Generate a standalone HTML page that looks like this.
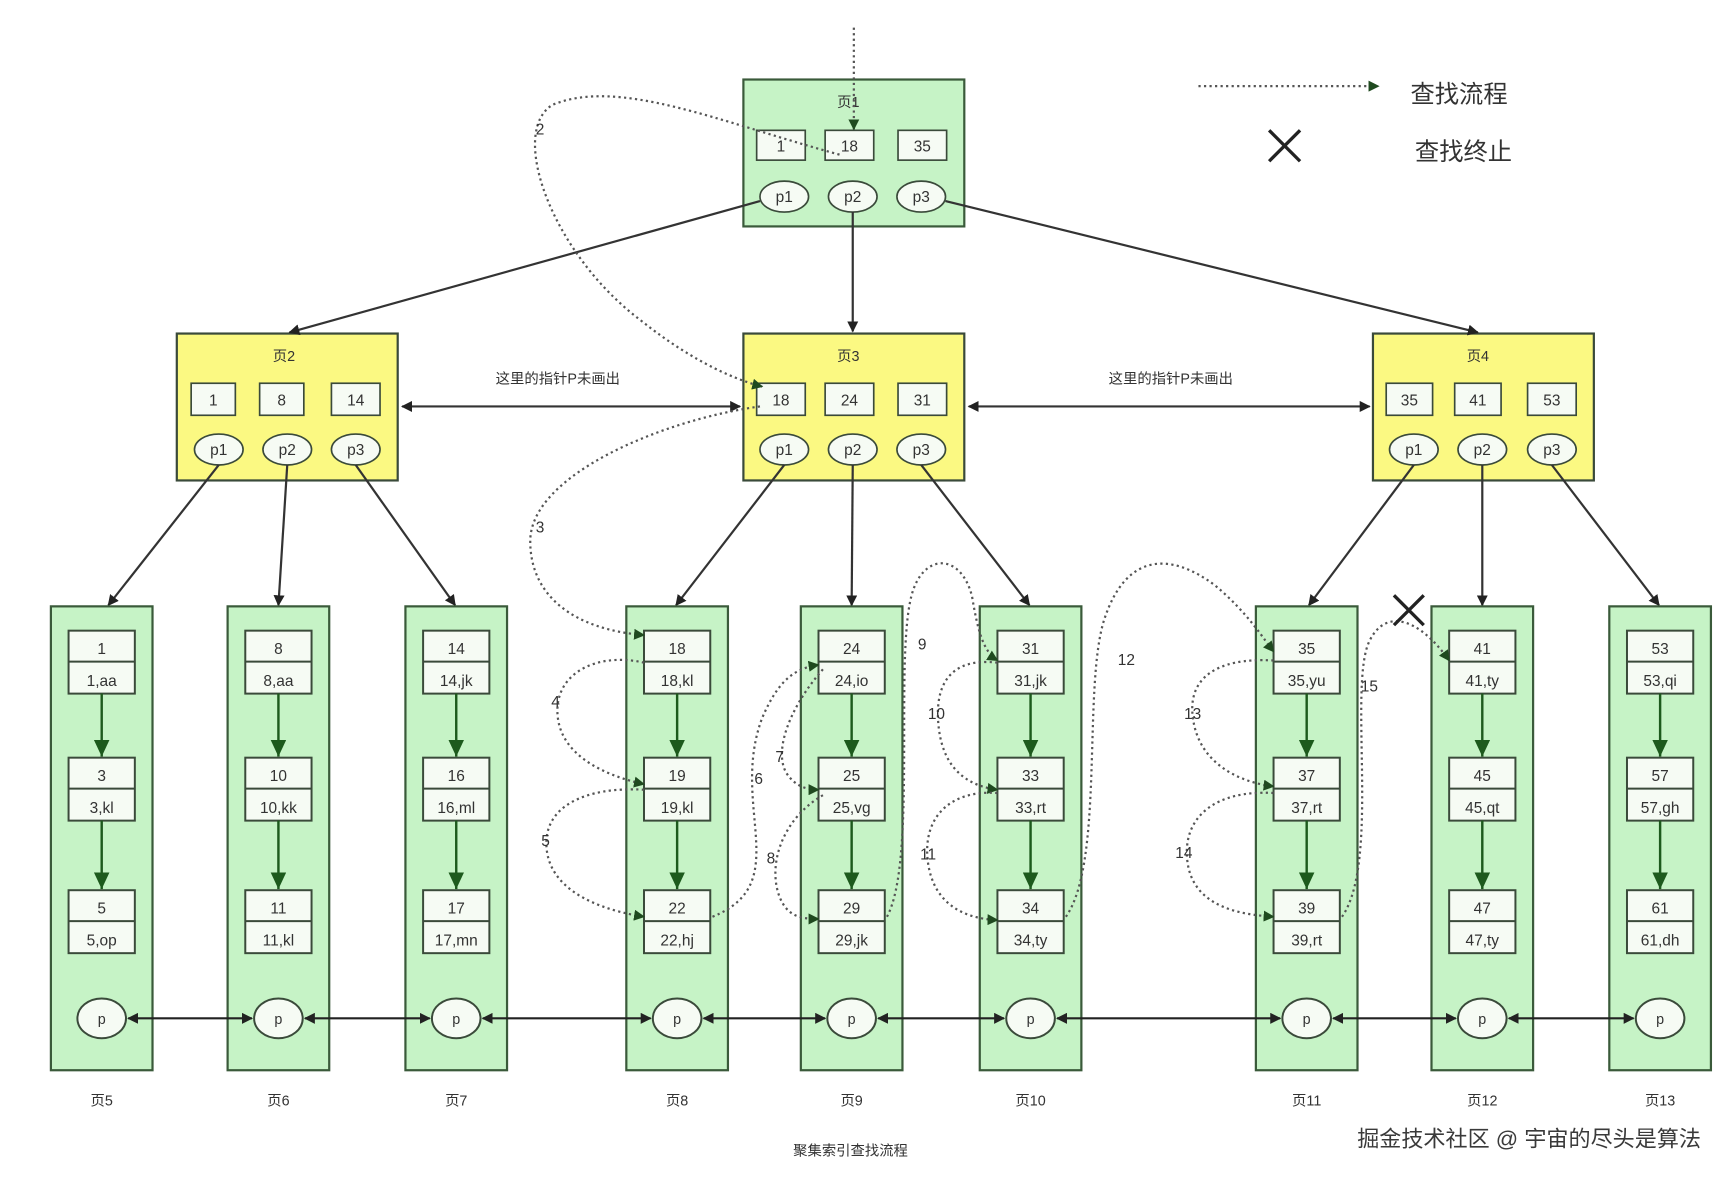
<!DOCTYPE html>
<html><head><meta charset="utf-8"><style>
html,body{margin:0;padding:0;background:#fff;}
svg{display:block;}
text{font-family:"Liberation Sans","Noto Sans CJK SC",sans-serif;fill:#333;}
</style></head><body>
<svg width="1732" height="1184" viewBox="0 0 1568 1072" xmlns="http://www.w3.org/2000/svg">
<defs>
<marker id="a" markerWidth="10" markerHeight="10" refX="9" refY="5" orient="auto" markerUnits="userSpaceOnUse"><path d="M0,0 L10,5 L0,10 z" fill="#222"/></marker>
<marker id="as" markerWidth="10" markerHeight="10" refX="1" refY="5" orient="auto" markerUnits="userSpaceOnUse"><path d="M10,0 L0,5 L10,10 z" fill="#222"/></marker>
<marker id="g" markerWidth="16" markerHeight="14" refX="15" refY="7" orient="auto" markerUnits="userSpaceOnUse"><path d="M0,0 L15,7 L0,14 z" fill="#1d5a1d"/></marker>
<marker id="d" markerWidth="10" markerHeight="10" refX="9" refY="5" orient="auto" markerUnits="userSpaceOnUse"><path d="M0,0 L10,5 L0,10 z" fill="#1f4a1f"/></marker>
</defs>

<!-- Page1 -->
<rect x="673" y="72" width="200" height="133" fill="#c6f3c6" stroke="#3a5a3a" stroke-width="2"/>
<text x="768" y="97" font-size="13" text-anchor="middle">页1</text>
<g fill="#f6fbf4" stroke="#3a4a3a" stroke-width="1.5">
<rect x="685" y="118" width="44" height="27"/><rect x="747" y="118" width="44" height="27"/><rect x="813" y="118" width="44" height="27"/>
<ellipse cx="710" cy="178" rx="22" ry="14"/><ellipse cx="772" cy="178" rx="22" ry="14"/><ellipse cx="834" cy="178" rx="22" ry="14"/>
</g>
<g font-size="14" text-anchor="middle"><text x="707" y="137">1</text><text x="769" y="137">18</text><text x="835" y="137">35</text>
<text x="710" y="183">p1</text><text x="772" y="183">p2</text><text x="834" y="183">p3</text></g>

<!-- Page2,3,4 -->
<g fill="#fbf982" stroke="#3a4a3a" stroke-width="2">
<rect x="160" y="302" width="200" height="133"/><rect x="673" y="302" width="200" height="133"/><rect x="1243" y="302" width="200" height="133"/>
</g>
<g font-size="13" text-anchor="middle"><text x="257" y="327">页2</text><text x="768" y="327">页3</text><text x="1338" y="327">页4</text></g>
<g fill="#f6fbf4" stroke="#3a4a3a" stroke-width="1.5">
<rect x="173" y="347" width="40" height="29"/><rect x="235" y="347" width="40" height="29"/><rect x="300" y="347" width="44" height="29"/>
<ellipse cx="198" cy="407" rx="22" ry="14"/><ellipse cx="260" cy="407" rx="22" ry="14"/><ellipse cx="322" cy="407" rx="22" ry="14"/>
<rect x="685" y="347" width="44" height="29"/><rect x="747" y="347" width="44" height="29"/><rect x="813" y="347" width="44" height="29"/>
<ellipse cx="710" cy="407" rx="22" ry="14"/><ellipse cx="772" cy="407" rx="22" ry="14"/><ellipse cx="834" cy="407" rx="22" ry="14"/>
<rect x="1255" y="347" width="42" height="29"/><rect x="1317" y="347" width="42" height="29"/><rect x="1383" y="347" width="44" height="29"/>
<ellipse cx="1280" cy="407" rx="22" ry="14"/><ellipse cx="1342" cy="407" rx="22" ry="14"/><ellipse cx="1405" cy="407" rx="22" ry="14"/>
</g>
<g font-size="14" text-anchor="middle">
<text x="193" y="367">1</text><text x="255" y="367">8</text><text x="322" y="367">14</text>
<text x="198" y="412">p1</text><text x="260" y="412">p2</text><text x="322" y="412">p3</text>
<text x="707" y="367">18</text><text x="769" y="367">24</text><text x="835" y="367">31</text>
<text x="710" y="412">p1</text><text x="772" y="412">p2</text><text x="834" y="412">p3</text>
<text x="1276" y="367">35</text><text x="1338" y="367">41</text><text x="1405" y="367">53</text>
<text x="1280" y="412">p1</text><text x="1342" y="412">p2</text><text x="1405" y="412">p3</text>
</g>
<g font-size="13" text-anchor="middle"><text x="505" y="347">这里的指针P未画出</text><text x="1060" y="347">这里的指针P未画出</text></g>

<!-- tree arrows -->
<g stroke="#333" stroke-width="2" fill="none" marker-end="url(#a)">
<line x1="688" y1="182" x2="262" y2="301"/><line x1="772" y1="192" x2="772" y2="300"/><line x1="856" y1="182" x2="1338" y2="301"/>
<line x1="198" y1="421" x2="98" y2="548"/><line x1="260" y1="421" x2="252" y2="548"/><line x1="322" y1="421" x2="412" y2="548"/>
<line x1="710" y1="421" x2="612" y2="548"/><line x1="772" y1="421" x2="771" y2="548"/><line x1="834" y1="421" x2="932" y2="548"/>
<line x1="1280" y1="421" x2="1185" y2="548"/><line x1="1342" y1="421" x2="1342" y2="548"/><line x1="1405" y1="421" x2="1502" y2="548"/>
<line x1="364" y1="368" x2="670" y2="368" marker-start="url(#as)"/>
<line x1="877" y1="368" x2="1240" y2="368" marker-start="url(#as)"/>
</g>

<!-- leaf pages -->
<g fill="#c6f3c6" stroke="#3a5a3a" stroke-width="2">
<rect x="46" y="549" width="92" height="420"/><rect x="206" y="549" width="92" height="420"/><rect x="367" y="549" width="92" height="420"/>
<rect x="567" y="549" width="92" height="420"/><rect x="725" y="549" width="92" height="420"/><rect x="887" y="549" width="92" height="420"/>
<rect x="1137" y="549" width="92" height="420"/><rect x="1296" y="549" width="92" height="420"/><rect x="1457" y="549" width="92" height="420"/>
</g>
<script>
(function(){
var ns="http://www.w3.org/2000/svg";
var svg=document.currentScript.parentNode;
var cols=[[92,["1","1,aa","3","3,kl","5","5,op"],"页5"],[252,["8","8,aa","10","10,kk","11","11,kl"],"页6"],[413,["14","14,jk","16","16,ml","17","17,mn"],"页7"],
[613,["18","18,kl","19","19,kl","22","22,hj"],"页8"],[771,["24","24,io","25","25,vg","29","29,jk"],"页9"],[933,["31","31,jk","33","33,rt","34","34,ty"],"页10"],
[1183,["35","35,yu","37","37,rt","39","39,rt"],"页11"],[1342,["41","41,ty","45","45,qt","47","47,ty"],"页12"],[1503,["53","53,qi","57","57,gh","61","61,dh"],"页13"]];
var ys=[571,686,806];
function el(t,a,txt){var e=document.createElementNS(ns,t);for(var k in a)e.setAttribute(k,a[k]);if(txt)e.textContent=txt;svg.appendChild(e);return e;}
cols.forEach(function(c){var x=c[0];
for(var i=0;i<3;i++){var y=ys[i];
el("rect",{x:x-30,y:y,width:60,height:57,fill:"#f6fbf4",stroke:"#3a4a3a","stroke-width":1.8});
el("line",{x1:x-30,y1:y+28,x2:x+30,y2:y+28,stroke:"#3a4a3a","stroke-width":1.8});
el("text",{x:x,y:y+21,"font-size":14,"text-anchor":"middle"},c[1][i*2]);
el("text",{x:x,y:y+50,"font-size":14,"text-anchor":"middle"},c[1][i*2+1]);
if(i<2)el("line",{x1:x,y1:y+57,x2:x,y2:ys[i+1]-1,stroke:"#1d5a1d","stroke-width":2.2,"marker-end":"url(#g)"});
}
el("ellipse",{cx:x,cy:922,rx:22,ry:18,fill:"#f6fbf4",stroke:"#3a4a3a","stroke-width":1.8});
el("text",{x:x,y:927,"font-size":13,"text-anchor":"middle"},"p");
el("text",{x:x,y:1001,"font-size":13,"text-anchor":"middle"},c[2]);
});
for(var i=0;i<8;i++){var a=cols[i][0]+24,b=cols[i+1][0]-24;
el("line",{x1:a,y1:922,x2:b,y2:922,stroke:"#222","stroke-width":2,"marker-end":"url(#a)","marker-start":"url(#as)"});}
})();
</script>

<!-- dotted search path -->
<g stroke="#555" stroke-width="2" stroke-dasharray="2,3" fill="none" marker-end="url(#d)">
<path d="M773,25 L773,117"/>
<path d="M760,140 C650,110 560,70 500,95 C460,120 500,230 580,290 C630,330 670,345 690,350"/>
<path d="M688,368 C600,380 480,430 480,490 C480,540 520,570 583,575"/>
<path d="M583,600 C540,590 500,610 505,650 C510,690 560,705 583,710"/>
<path d="M583,715 C530,712 490,730 495,770 C500,810 550,825 583,830"/>
<path d="M645,830 C720,800 660,730 690,650 C705,615 720,605 741,602"/>
<path d="M745,606 C715,640 700,680 712,700 C720,712 730,715 741,715"/>
<path d="M745,720 C710,740 695,780 705,810 C712,830 725,832 741,832"/>
<path d="M803,830 C830,780 810,600 825,540 C835,500 870,500 880,540 C885,570 890,590 903,598"/>
<path d="M903,600 C860,595 845,620 850,660 C855,700 880,712 903,715"/>
<path d="M903,718 C860,715 835,740 840,780 C845,820 875,832 903,833"/>
<path d="M965,830 C1000,780 980,620 1000,560 C1020,500 1060,500 1100,530 C1130,555 1145,580 1153,590"/>
<path d="M1153,598 C1100,595 1075,615 1080,650 C1085,690 1120,708 1153,712"/>
<path d="M1153,718 C1100,715 1070,740 1075,780 C1080,820 1120,828 1153,830"/>
<path d="M1215,830 C1250,780 1220,620 1240,580 C1255,550 1285,560 1312,598"/>
</g>
<g font-size="14" fill="#333">
<text x="485" y="122">2</text><text x="485" y="482">3</text><text x="499" y="640">4</text><text x="490" y="766">5</text>
<text x="683" y="710">6</text><text x="702" y="690">7</text><text x="694" y="782">8</text><text x="831" y="588">9</text>
<text x="840" y="651">10</text><text x="833" y="778">11</text><text x="1012" y="602">12</text><text x="1072" y="651">13</text>
<text x="1064" y="777">14</text><text x="1232" y="626">15</text>
</g>
<g stroke="#222" stroke-width="3"><line x1="1262" y1="539" x2="1289" y2="566"/><line x1="1289" y1="539" x2="1262" y2="566"/></g>

<!-- legend -->
<line x1="1085" y1="78" x2="1248" y2="78" stroke="#555" stroke-width="2" stroke-dasharray="2,3" marker-end="url(#d)"/>
<text x="1277" y="93" font-size="22">查找流程</text>
<g stroke="#222" stroke-width="3"><line x1="1149" y1="118" x2="1177" y2="146"/><line x1="1177" y1="118" x2="1149" y2="146"/></g>
<text x="1281" y="145" font-size="22">查找终止</text>

<text x="770" y="1046" font-size="13" text-anchor="middle">聚集索引查找流程</text>
<text x="1540" y="1038" font-size="20" text-anchor="end" style="fill:#3a3a3a">掘金技术社区 @ 宇宙的尽头是算法</text>
</svg>
</body></html>
